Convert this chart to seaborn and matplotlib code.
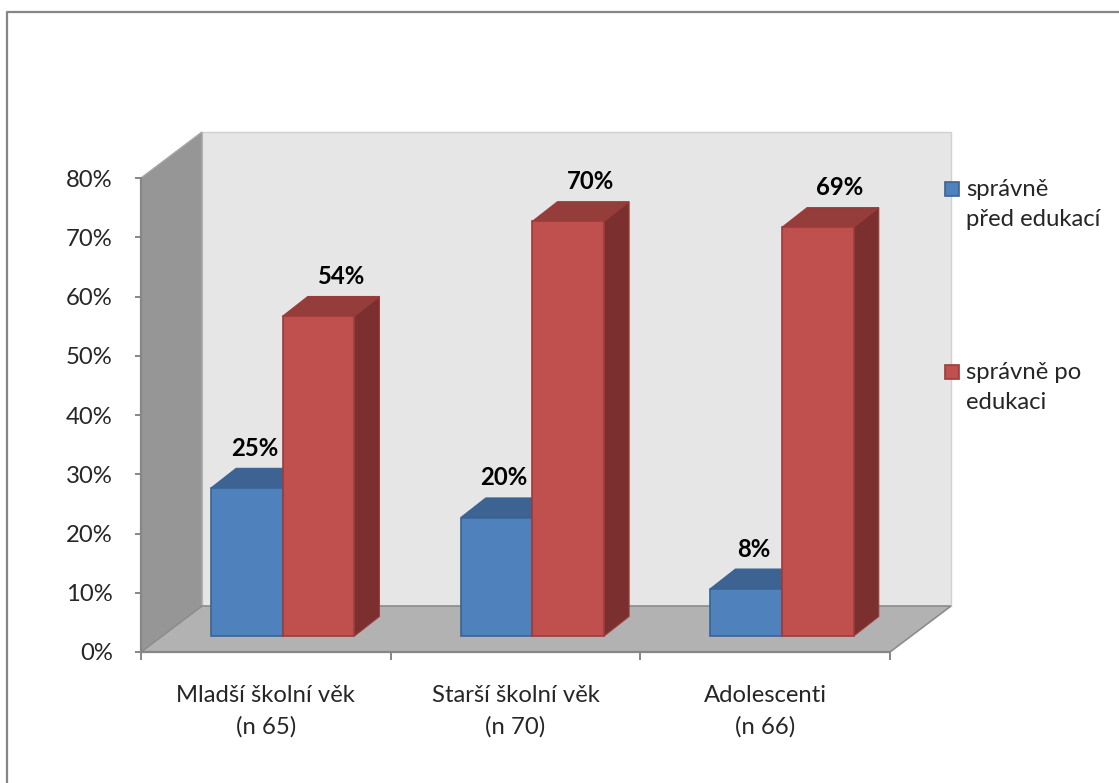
import matplotlib
matplotlib.use("Agg")
import matplotlib.pyplot as plt
from matplotlib.patches import Polygon, Rectangle
from matplotlib.lines import Line2D
from matplotlib.transforms import Affine2D
import seaborn as sns
import pandas as pd

# ---- data -------------------------------------------------------------
categories = ["Mladší školní věk\n(n 65)", "Starší školní věk\n(n 70)", "Adolescenti\n(n 66)"]
series = ["správně\npřed edukací", "správně po\nedukaci"]
before_edu = [25, 20, 8]
after_edu = [54, 70, 69]
y_ticks = [0, 10, 20, 30, 40, 50, 60, 70, 80]
y_tick_labels = [f"{t}%" for t in y_ticks]

df = pd.DataFrame({
    "kategorie": categories * 2,
    "serie": [series[0]] * 3 + [series[1]] * 3,
    "hodnota": before_edu + after_edu,
})

# ---- style ------------------------------------------------------------
sns.set_style("white")
plt.rcParams["font.family"] = ["Lato", "DejaVu Sans"]
FS = 17.2
LS = 1.55

front = ["#4F81BD", "#C0504D"]
edge = ["#3A6393", "#9A3C3A"]
top = ["#3C6391", "#943D3A"]
side = ["#355A86", "#7B302F"]
wall_back = "#E6E6E6"
wall_side = "#969696"
floor_c = "#B2B2B2"
axis_c = "#868686"

W, H = 1119, 783
fig = plt.figure(figsize=(W / 100, H / 100), dpi=100)

# plot box: front axes frame (x -0.5..2.5, y 0..80) plus the wall depth
DX, DY = 0.2443, 7.764          # wall depth in data units
left_px, right_px, bottom_px, top_px = 141, 951, 652, 132
ax = fig.add_axes([left_px / W, (H - bottom_px) / H,
                   (right_px - left_px) / W, (bottom_px - top_px) / H])
ax.patch.set_alpha(0)
for s in ax.spines.values():
    s.set_visible(False)

# walls and floor
ax.add_patch(Rectangle((-0.5 + DX, DY), 3.0, 80, facecolor=wall_back,
                       edgecolor="#D0D0D0", lw=1, zorder=0.5, clip_on=False))
ax.add_patch(Polygon([(-0.5, 0), (-0.5 + DX, DY), (-0.5 + DX, 80 + DY), (-0.5, 80)],
                     closed=True, facecolor=wall_side, edgecolor="#A6A6A6",
                     lw=1, zorder=0.6, clip_on=False))
ax.add_patch(Polygon([(-0.5, 0), (2.5, 0), (2.5 + DX, DY), (-0.5 + DX, DY)],
                     closed=True, facecolor=floor_c, edgecolor="#8C8C8C",
                     lw=1.2, zorder=0.7, clip_on=False))

# axis lines
ax.add_line(Line2D([-0.5, -0.5], [0, 80], color=axis_c, lw=1.6, zorder=1, clip_on=False))
ax.add_line(Line2D([-0.5, 2.5], [0, 0], color=axis_c, lw=1.6, zorder=1, clip_on=False))

# ---- bars -------------------------------------------------------------
BAR_W = 0.574
sns.barplot(data=df, x="kategorie", y="hodnota", hue="serie", order=categories,
            hue_order=series, palette=front, saturation=1, width=BAR_W,
            legend=False, ax=ax, zorder=3)
# seaborn resets the limits of a categorical axis; restore the box extent
ax.set_xlim(-0.5, 2.5 + DX)
ax.set_ylim(0, 80 + DY)

SX, SY = 0.068, 2.70      # bars stand inside the box, off the front edge
BDX, BDY = 0.100, 3.30    # bar depth
shift = Affine2D().translate(SX, SY) + ax.transData
label_dx = [0.03, 0.088]

for si, cont in enumerate(ax.containers):
    for p in cont.patches:
        p.set_transform(shift)
        p.set_edgecolor(edge[si])
        p.set_linewidth(1.2)
        p.set_zorder(3)
        x0 = p.get_x() + SX
        w = p.get_width()
        h = p.get_height()
        y0 = SY
        ax.add_patch(Polygon([(x0, y0 + h), (x0 + w, y0 + h),
                              (x0 + w + BDX, y0 + h + BDY), (x0 + BDX, y0 + h + BDY)],
                             closed=True, facecolor=top[si], edgecolor=edge[si],
                             lw=0.8, zorder=2, clip_on=False))
        ax.add_patch(Polygon([(x0 + w, y0), (x0 + w + BDX, y0 + BDY),
                              (x0 + w + BDX, y0 + h + BDY), (x0 + w, y0 + h)],
                             closed=True, facecolor=side[si], edgecolor=edge[si],
                             lw=0.8, zorder=2, clip_on=False))
        ax.annotate(f"{h:.0f}%", (x0 + w / 2 + label_dx[si], y0 + h + BDY),
                    xytext=(0, 20), textcoords="offset pixels",
                    ha="center", va="center", fontsize=FS, fontweight="bold",
                    color="black", zorder=5, annotation_clip=False)

# ---- ticks ------------------------------------------------------------
ax.set_yticks(y_ticks)
ax.set_yticklabels(y_tick_labels)
ax.tick_params(axis="y", which="major", direction="out", length=6 * 0.72,
               width=1.4, color=axis_c, pad=16, labelsize=FS, left=True)
ax.set_xticks([0, 1, 2])
ax.set_xticklabels(categories)
ax.set_xticks([-0.5, 0.5, 1.5, 2.5], minor=True)
ax.tick_params(axis="x", which="major", length=0, pad=24, labelsize=FS)
ax.tick_params(axis="x", which="minor", direction="out", length=8 * 0.72,
               width=1.4, color=axis_c, bottom=True)
for lab in ax.get_xticklabels():
    lab.set_linespacing(LS)
ax.set_xlabel("")
ax.set_ylabel("")

# ---- legend -----------------------------------------------------------
leg_x = 945
for si, (yy, txt) in enumerate([(182, series[0]), (365, series[1])]):
    fig.add_artist(Rectangle((leg_x / W, (H - yy - 14) / H), 14 / W, 14 / H,
                             facecolor=front[si], edgecolor=edge[si], lw=1.2,
                             transform=fig.transFigure))
    fig.text((leg_x + 21) / W, (H - yy + 3) / H, txt, ha="left", va="top",
             fontsize=FS, linespacing=LS)

# ---- chart border (top and left edges) --------------------------------
fig.add_artist(Line2D([7 / W, 7 / W, 1.0], [0.0, (H - 12) / H, (H - 12) / H],
                      color=axis_c, lw=1.6, transform=fig.transFigure))

fig.savefig("out.png", dpi=100)
